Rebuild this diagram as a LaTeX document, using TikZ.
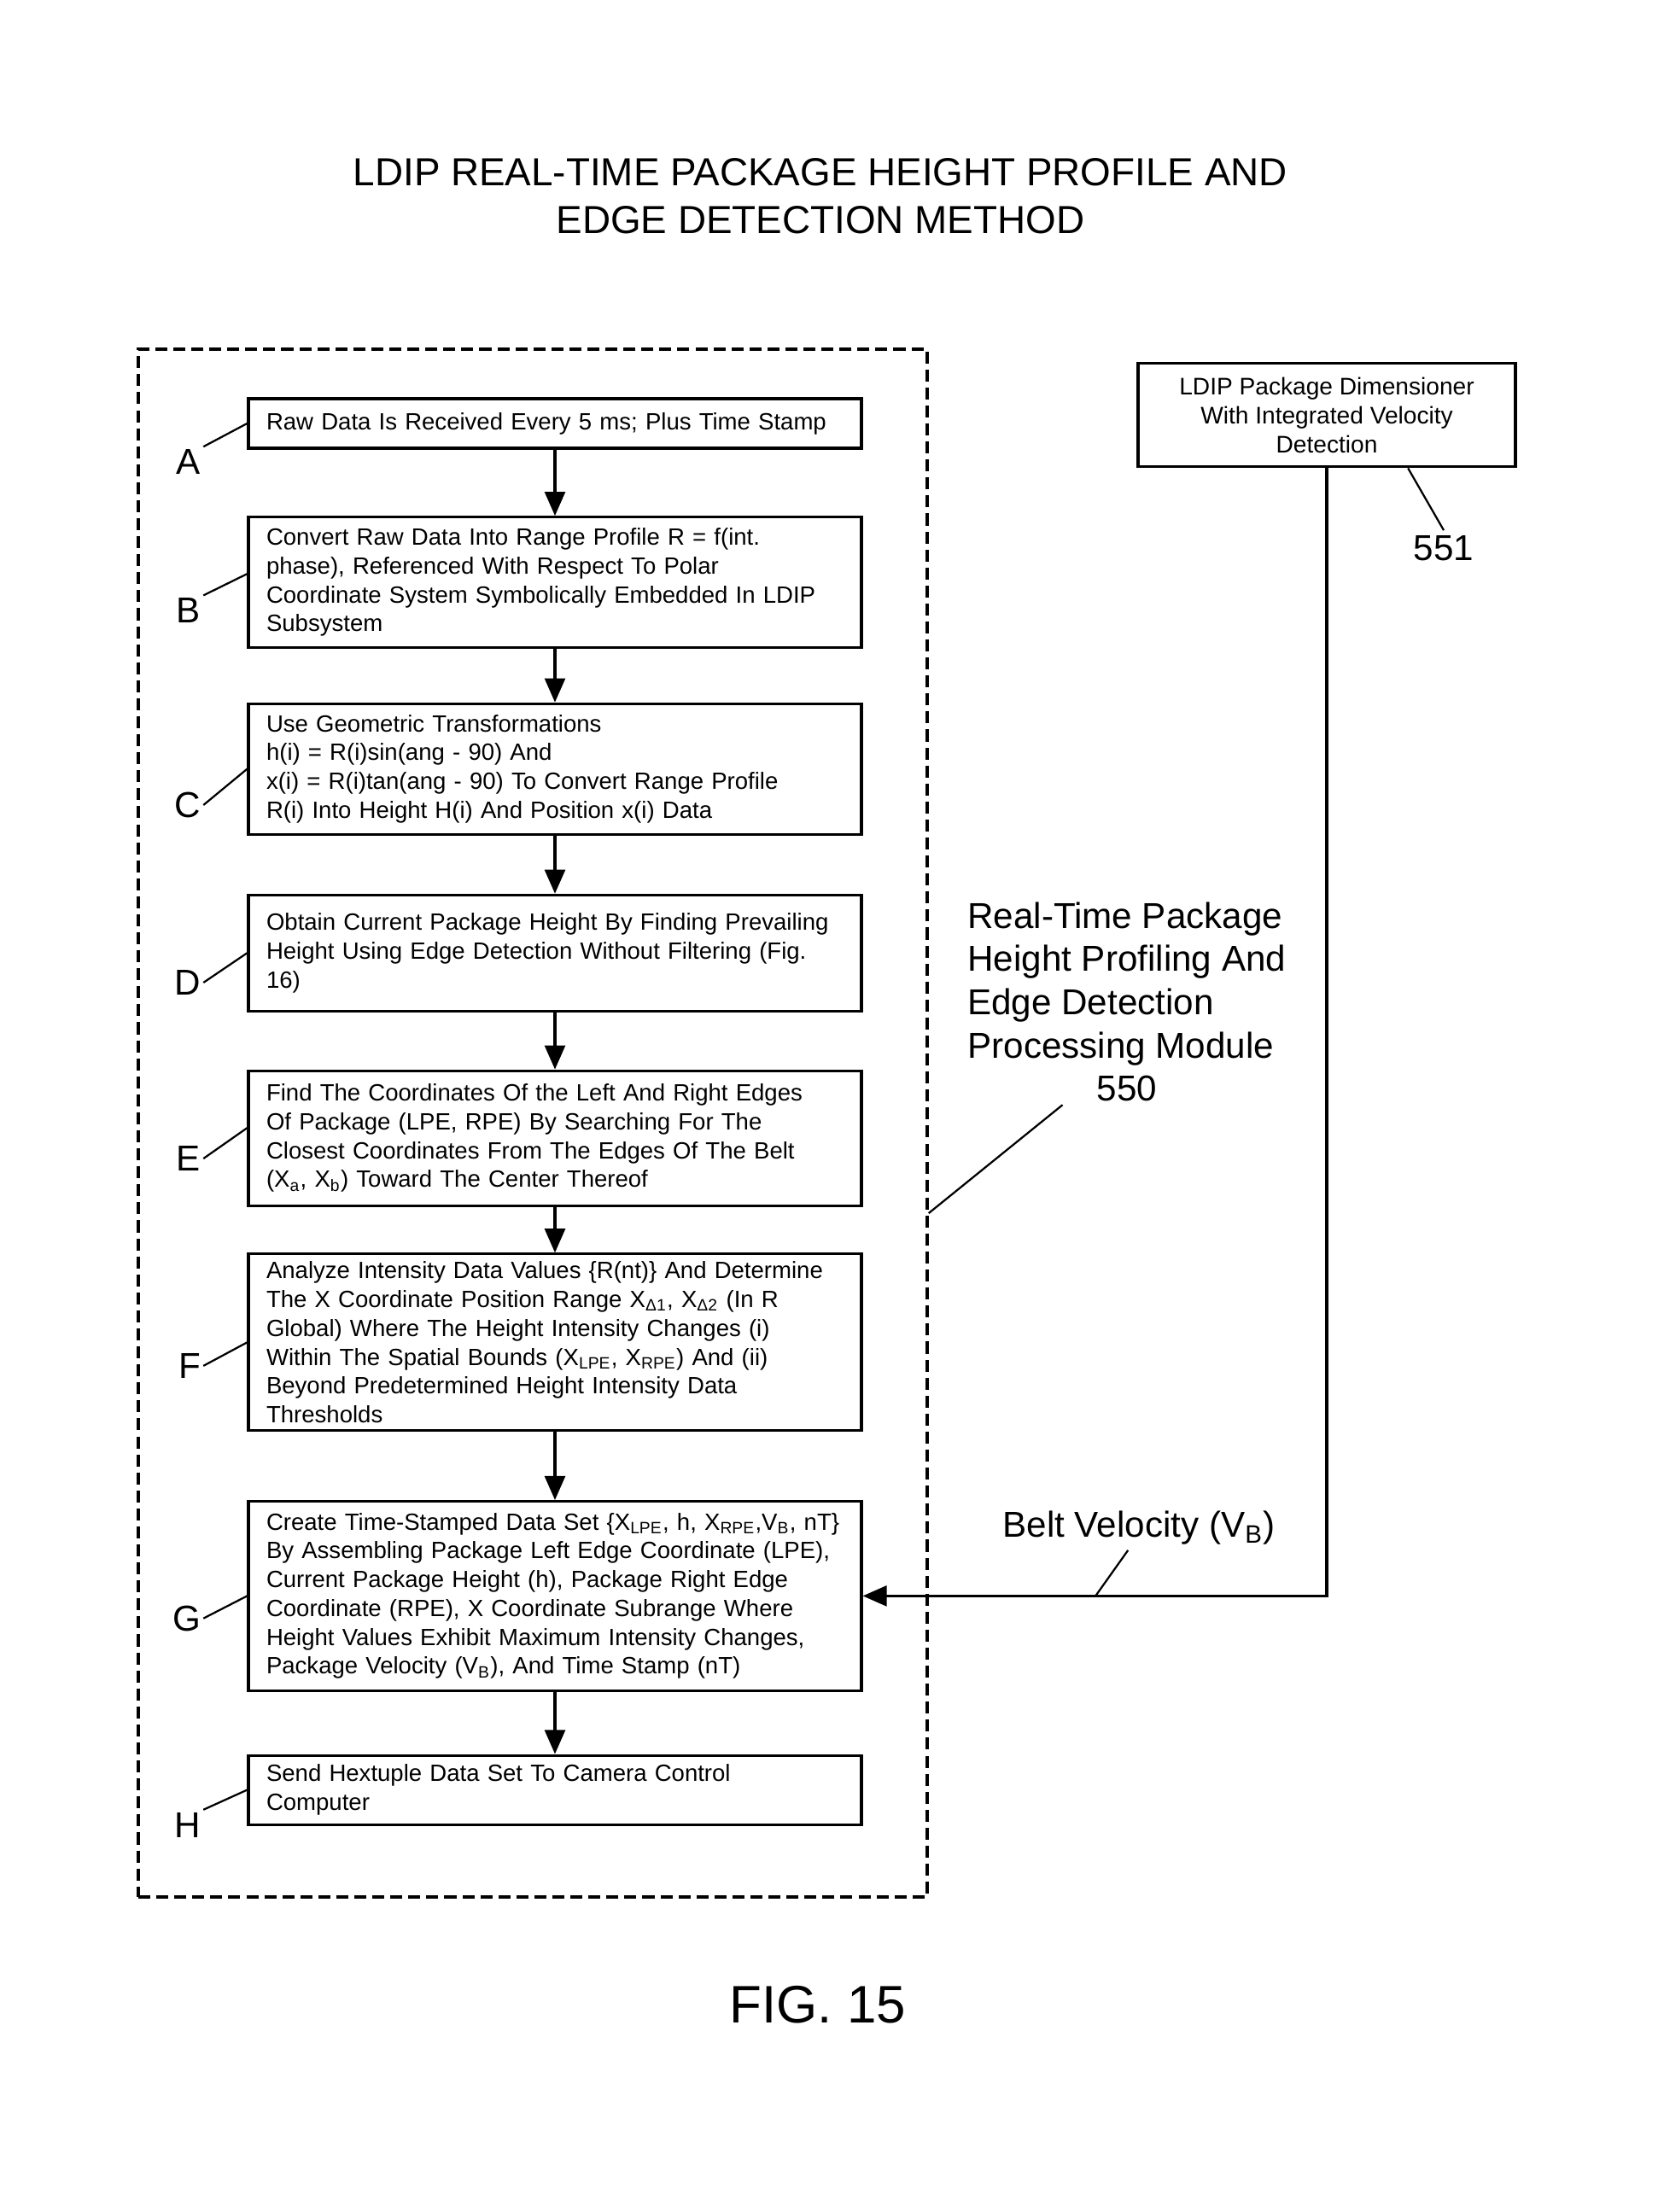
\documentclass[tikz,border=0pt]{standalone}
\usepackage{fontspec}
\setmainfont{Liberation Sans}
\usetikzlibrary{positioning, arrows.meta}
\tikzstyle{stepbox} = [rectangle, draw=black, line width=1.1pt, text width=8.45cm, inner xsep=0.2625cm, inner ysep=1pt, align=left, font=\fontsize{9.8}{12}\selectfont]
\tikzstyle{sourcebox} = [rectangle, draw=black, line width=1.1pt, minimum width=5.525cm, minimum height=1.5125cm, align=center, font=\fontsize{10}{12}\selectfont]
\tikzstyle{modulebox} = [rectangle, draw=black, line width=1.2pt, dash pattern=on 5pt off 2.5pt, minimum width=11.55cm, minimum height=22.6625cm]
\tikzstyle{arrow} = [line width=1.1pt, -{Triangle[length=10pt,width=8.5pt]}]
\tikzstyle{leader} = [line width=0.8pt]
\tikzstyle{tag} = [inner sep=1pt, font=\fontsize{15}{18}\selectfont]
\tikzstyle{callout} = [inner sep=2pt, font=\fontsize{15}{18}\selectfont]

\begin{document}
\begin{tikzpicture}
        \useasboundingbox (0,0) rectangle (24.35,-32.3875);
        \node (title) [align=center, font=\fontsize{16.3}{19.9}\selectfont] at (12.01,-2.875) {LDIP REAL-TIME PACKAGE HEIGHT PROFILE AND\\EDGE DETECTION METHOD};

        \node (module) [modulebox] at (7.8,-16.44375) {};

        \node (boxA) [stepbox, minimum height=0.725cm] at (8.125,-6.2) {Raw Data Is Received Every 5 ms; Plus Time Stamp};
        \node (boxB) [stepbox, minimum height=1.9125cm, below=0.97cm of boxA] {Convert Raw Data Into Range Profile R = f(int.\\phase), Referenced With Respect To Polar\\Coordinate System Symbolically Embedded In LDIP\\Subsystem};
        \node (boxC) [stepbox, minimum height=1.9125cm, below=0.78cm of boxB] {Use Geometric Transformations\\h(i) = R(i)sin(ang - 90) And\\x(i) = R(i)tan(ang - 90) To Convert Range Profile\\R(i) Into Height H(i) And Position x(i) Data};
        \node (boxD) [stepbox, minimum height=1.7cm, below=0.85cm of boxC] {Obtain Current Package Height By Finding Prevailing\\Height Using Edge Detection Without Filtering (Fig.\\16)};
        \node (boxE) [stepbox, minimum height=1.975cm, below=0.835cm of boxD] {Find The Coordinates Of the Left And Right Edges\\Of Package (LPE, RPE) By Searching For The\\Closest Coordinates From The Edges Of The Belt\\(X\textsubscript{a}, X\textsubscript{b}) Toward The Center Thereof};
        \node (boxF) [stepbox, minimum height=2.5875cm, below=0.67cm of boxE] {Analyze Intensity Data Values \{R(nt)\} And Determine\\The X Coordinate Position Range X\textsubscript{Δ1}, X\textsubscript{Δ2} (In R\\Global) Where The Height Intensity Changes (i)\\Within The Spatial Bounds (X\textsubscript{LPE}, X\textsubscript{RPE}) And (ii)\\Beyond Predetermined Height Intensity Data\\Thresholds};
        \node (boxG) [stepbox, minimum height=2.77cm, below=0.995cm of boxF] {Create Time-Stamped Data Set \{X\textsubscript{LPE}, h, X\textsubscript{RPE},V\textsubscript{B}, nT\}\\By Assembling Package Left Edge Coordinate (LPE),\\Current Package Height (h), Package Right Edge\\Coordinate (RPE), X Coordinate Subrange Where\\Height Values Exhibit Maximum Intensity Changes,\\Package Velocity (V\textsubscript{B}), And Time Stamp (nT)};
        \node (boxH) [stepbox, minimum height=1.0125cm, below=0.91cm of boxG] {Send Hextuple Data Set To Camera Control\\Computer};

        % Step letters
        \node (tagA) [tag, below left=0.34cm and 0.64cm of boxA.west] {A};
        \node (tagB) [tag, below left=0.19cm and 0.64cm of boxB.west] {B};
        \node (tagC) [tag, below left=0.3cm and 0.64cm of boxC.west] {C};
        \node (tagD) [tag, below left=0.21cm and 0.64cm of boxD.west] {D};
        \node (tagE) [tag, below left=0.075cm and 0.64cm of boxE.west] {E};
        \node (tagF) [tag, below left=0.12cm and 0.64cm of boxF.west] {F};
        \node (tagG) [tag, below left=0.1cm and 0.64cm of boxG.west] {G};
        \node (tagH) [tag, below left=0.29cm and 0.64cm of boxH.west] {H};
        \draw [leader] (boxA.west) -- (tagA.north east);
        \draw [leader] ([yshift=0.125cm]boxB.west) -- (tagB.north east);
        \draw [leader] (boxC.west) -- (tagC.east);
        \draw [leader] (boxD.west) -- (tagD.east);
        \draw [leader] ([yshift=0.15cm]boxE.west) -- (tagE.east);
        \draw [leader] (boxF.west) -- (tagF.east);
        \draw [leader] (boxG.west) -- (tagG.east);
        \draw [leader] (boxH.west) -- (tagH.north east);

        % Arrows for the method steps
        \draw [arrow] (boxA.south) -- (boxB.north);
        \draw [arrow] (boxB.south) -- (boxC.north);
        \draw [arrow] (boxC.south) -- (boxD.north);
        \draw [arrow] (boxD.south) -- (boxE.north);
        \draw [arrow] (boxE.south) -- (boxF.north);
        \draw [arrow] (boxF.south) -- (boxG.north);
        \draw [arrow] (boxG.south) -- (boxH.north);

        % Dimensioner and belt velocity
        \node (dimensioner) [sourcebox] at (19.425,-6.08) {LDIP Package Dimensioner\\With Integrated Velocity\\Detection};
        \node (lbl551) [callout] at (21.1375,-8.025) {551};
        \draw [leader] ([xshift=1.19cm]dimensioner.south) -- (lbl551.north);
        \draw [arrow] (dimensioner.south) |- (boxG.east);
        \node (beltlbl) [callout] at (16.675,-22.375) {Belt Velocity (V\textsubscript{B})};
        \coordinate (beltpt) at (16.04,0 |- boxG.east);
        \draw [leader] ([xshift=-0.16cm]beltlbl.south) -- (beltpt);

        % Module label
        \node (modtxt) [callout, anchor=north west, inner sep=0pt] at (14.16,-13.14) {\begin{tabular}{@{}l@{}}Real-Time Package\\Height Profiling And\\Edge Detection\\Processing Module\\\multicolumn{1}{@{}c@{}}{550}\end{tabular}};
        \draw [leader] ([xshift=-0.94cm,yshift=0.14cm]modtxt.south) -- ([yshift=-1.32cm]module.east);

        \node (figlbl) [font=\fontsize{22}{26}\selectfont] at (11.975,-29.35) {FIG. 15};
    \end{tikzpicture}
\end{document}
